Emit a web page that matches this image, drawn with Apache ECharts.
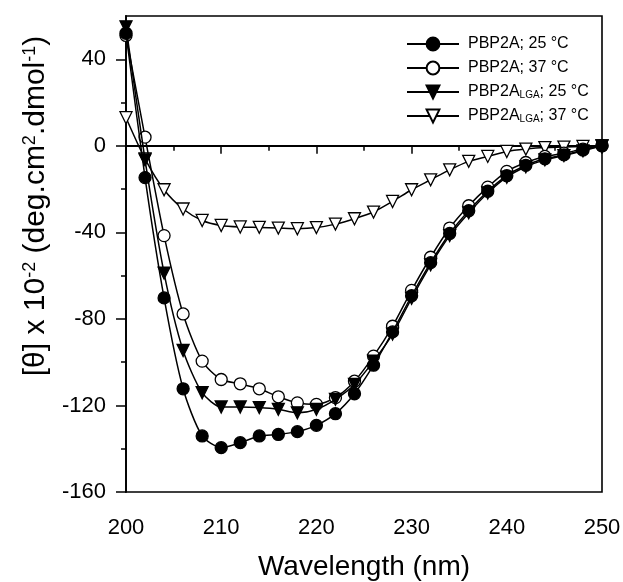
<!DOCTYPE html>
<html>
<head>
<meta charset="utf-8">
<script src="https://cdn.jsdelivr.net/npm/echarts@6/dist/echarts.min.js"></script>
<style>
html, body { margin: 0; padding: 0; background: #fff; }
#main { width: 623px; height: 582px; }
</style>
</head>
<body>
<div id="main"></div>
<script>
// wavelength (nm), every 2 nm
var wavelength = [200, 202, 204, 206, 208, 210, 212, 214, 216, 218, 220, 222, 224,
    226, 228, 230, 232, 234, 236, 238, 240, 242, 244, 246, 248, 250];

// [θ] x 10^-2 values
var pbp2a25 = [52, -14.7, -70.3, -112.3, -134.1, -139.5, -137.2, -134.1, -133.4, -132.1, -129.2, -123.8, -114.6,
    -101.4, -86, -69.3, -54, -40.5, -30, -21, -13.8, -9, -6, -4.2, -2, 0];
var pbp2a37 = [51, 4, -41.5, -77.7, -99.5, -108, -110, -112.3, -116, -118.8, -119.5, -116.4, -108.8,
    -97.2, -83.4, -66.8, -51.5, -38, -27.7, -19.1, -11.8, -7.7, -4.9, -3.4, -1.5, 0];
var lga25 = [55, -6.5, -58.8, -94.6, -114.1, -120.7, -120.7, -121, -121.8, -123.4, -121.8, -117.2, -110.3,
    -99.5, -87, -70.5, -55, -41.5, -31, -21.8, -14.5, -9.7, -6.5, -4.5, -2.3, 0];
var lga37 = [13, -6, -20.3, -29.2, -34.5, -36.8, -37.5, -37.7, -38, -38.3, -37.8, -36.2, -33.7,
    -30.6, -25.7, -20.3, -15.7, -11.1, -7.2, -4.9, -2.6, -1.5, -0.8, -0.6, -0.3, 0];

var yTicks = [-160, -120, -80, -40, 0, 40];
var yMinorTicks = [-140, -100, -60, -20, 20];

var names = ['PBP2A; 25 °C', 'PBP2A; 37 °C', 'PBP2ALGA; 25 °C', 'PBP2ALGA; 37 °C'];

var FONT = 'Liberation Sans, Arial, sans-serif';
var DOWN_TRI = 'path://M0,0L10,0L5,9Z';

function pairs(arr) {
    var out = [];
    for (var i = 0; i < wavelength.length; i++) {
        out.push([wavelength[i], arr[i]]);
    }
    return out;
}

function makeSeries(name, arr, symbol, fill, z) {
    return {
        name: name,
        type: 'line',
        data: pairs(arr),
        smooth: 0.25,
        symbol: symbol,
        symbolSize: 12,
        showAllSymbol: true,
        z: z,
        lineStyle: {color: '#000', width: 1.5},
        itemStyle: {color: fill, borderColor: '#000', borderWidth: 1.3},
        emphasis: {disabled: true}
    };
}

var myChart = echarts.init(document.getElementById('main'));

var option = {
    animation: false,
    backgroundColor: '#fff',
    grid: {
        left: 126, top: 16, right: 21, bottom: 90,
        outerBoundsMode: 'none',
        show: true, borderColor: '#000', borderWidth: 1.6
    },
    legend: {
        data: names,
        orient: 'vertical',
        left: 401,
        top: 31,
        itemWidth: 52,
        itemHeight: 16,
        itemGap: 8,
        textStyle: {
            fontSize: 16, color: '#000', fontFamily: FONT, padding: [0, 0, 0, 4],
            rich: {
                sub: {fontSize: 10, fontFamily: FONT, color: '#000', verticalAlign: 'bottom', lineHeight: 8}
            }
        },
        formatter: function (name) {
            return name.replace('LGA', '{sub|LGA}');
        }
    },
    xAxis: {
        type: 'value',
        min: 200, max: 250, interval: 10,
        name: 'Wavelength (nm)',
        nameLocation: 'middle',
        nameGap: 61,
        nameTextStyle: {fontSize: 28, color: '#000', fontFamily: FONT},
        axisLine: {lineStyle: {color: '#000', width: 1.8}},
        axisTick: {inside: false, length: 8, lineStyle: {color: '#000', width: 1.5}},
        minorTick: {show: true, splitNumber: 2, length: 5, lineStyle: {color: '#000', width: 1.5}},
        axisLabel: {fontSize: 22, color: '#000', fontFamily: FONT, margin: 25},
        splitLine: {show: false}
    },
    yAxis: [{
        type: 'value',
        min: -160, max: 60,
        name: '[θ] x 10{sup|-2} (deg.cm{sup|2}.dmol{sup|-1})',
        nameLocation: 'middle',
        nameRotate: 90,
        nameGap: 73,
        nameTextStyle: {
            fontSize: 30, color: '#000', fontFamily: FONT, padding: [0, 0, 0, 96],
            rich: {
                sup: {fontSize: 18, color: '#000', fontFamily: FONT, verticalAlign: 'top'}
            }
        },
        axisLine: {lineStyle: {color: '#000', width: 1.8}},
        axisTick: {inside: false, length: 10, customValues: yTicks, lineStyle: {color: '#000', width: 1.5}},
        axisLabel: {fontSize: 22, color: '#000', fontFamily: FONT, margin: 20, customValues: yTicks},
        splitLine: {show: false}
    }, {
        type: 'value',
        min: -160, max: 60,
        position: 'left',
        axisLine: {show: false},
        axisTick: {inside: false, length: 5, customValues: yMinorTicks, lineStyle: {color: '#000', width: 1.5}},
        axisLabel: {show: false},
        splitLine: {show: false}
    }],
    series: [
        makeSeries(names[3], lga37, DOWN_TRI, '#fff', 2),
        makeSeries(names[1], pbp2a37, 'circle', '#fff', 3),
        makeSeries(names[2], lga25, DOWN_TRI, '#000', 4),
        makeSeries(names[0], pbp2a25, 'circle', '#000', 5)
    ]
};

myChart.setOption(option);
</script>
</body>
</html>
